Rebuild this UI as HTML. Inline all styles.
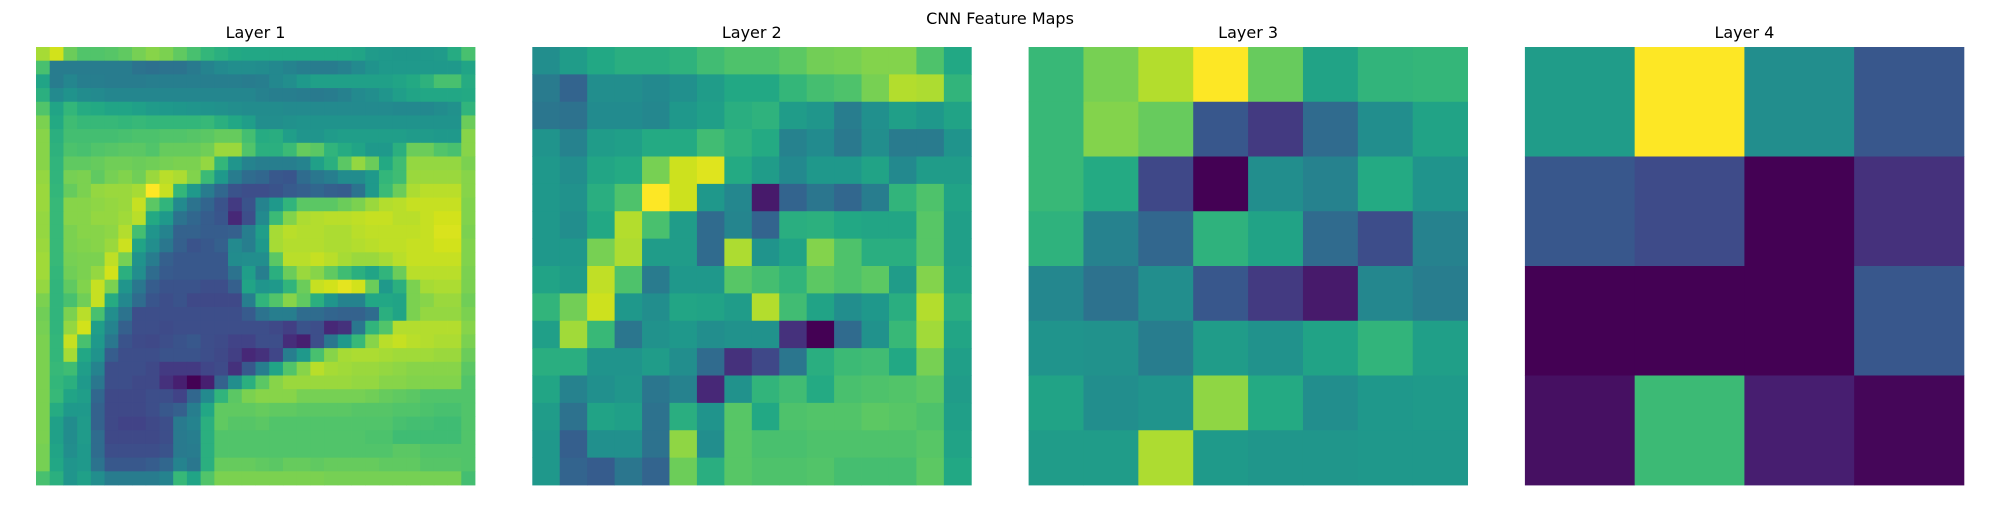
<!DOCTYPE html>
<html><head><meta charset="utf-8">
<style>
html,body{margin:0;padding:0;background:#fff;}
body{width:2000px;height:500px;overflow:hidden;font-family:"Liberation Sans","DejaVu Sans",sans-serif;}
svg text{font-family:"DejaVu Sans","Liberation Sans",sans-serif;fill:#000;}
</style></head>
<body>
<svg id="chart" width="2000" height="500" viewBox="0 0 2000 500" xmlns="http://www.w3.org/2000/svg">
<text x="1000" y="24" font-size="16" text-anchor="middle">CNN Feature Maps</text>
</svg>
<script>
const layerTitles = ["Layer 1","Layer 2","Layer 3","Layer 4"];
const layer1 = [
[85,92,75,70,70,71,73,77,80,78,73,68,63,60,57,56,56,56,56,56,56,56,56,55,51,50,49,49,50,51,58,68],
[68,37,37,37,37,37,37,33,32,33,33,36,40,43,45,45,44,42,40,38,37,37,39,43,47,50,50,50,50,50,50,55],
[55,37,41,38,38,37,37,37,38,38,38,38,38,38,38,37,38,42,45,50,53,53,53,53,53,53,55,57,61,68,68,58],
[60,43,47,44,43,41,41,41,41,41,41,41,41,41,41,41,39,38,38,37,36,37,39,43,45,48,52,55,56,56,56,57],
[70,55,63,58,57,55,55,53,51,50,49,48,47,46,45,44,44,44,43,43,43,43,43,43,43,43,42,42,42,44,46,62],
[78,57,66,64,64,64,63,64,63,63,63,63,64,60,56,52,45,45,46,47,47,47,47,47,47,47,47,47,47,47,47,75],
[80,60,67,67,67,67,68,69,69,70,70,71,72,74,74,67,58,59,52,48,48,51,52,52,52,52,52,51,51,50,50,80],
[80,61,69,68,70,71,72,72,70,74,74,74,76,83,83,70,60,60,65,74,72,62,58,55,50,50,60,75,75,70,68,80],
[80,62,73,73,74,76,76,75,76,77,78,78,82,63,48,40,38,38,38,40,53,60,72,82,75,57,66,82,82,82,82,78],
[82,62,77,78,73,77,79,76,83,88,86,79,65,50,37,30,28,22,21,30,35,38,44,44,50,63,66,83,83,83,83,80],
[83,63,74,78,82,83,83,85,99,90,63,50,37,28,20,18,18,20,23,25,28,25,24,33,50,65,75,86,88,88,88,80],
[83,64,80,80,81,82,83,90,72,62,43,33,27,20,12,20,40,50,62,72,72,72,75,78,83,87,88,90,90,90,90,79],
[82,64,80,80,82,82,84,88,57,50,33,28,24,21,8,18,43,65,79,86,87,88,88,89,90,90,88,88,90,92,92,79],
[82,64,78,80,80,81,87,67,48,40,26,26,24,24,25,38,52,85,88,87,87,86,86,88,89,89,89,89,90,93,93,78],
[83,64,78,79,80,83,91,55,45,35,25,20,22,25,43,38,50,85,87,87,87,86,86,87,88,89,89,90,90,92,92,79],
[84,64,77,78,78,89,77,47,37,25,22,22,22,22,44,45,45,72,88,88,90,88,85,83,83,85,88,90,90,90,90,79],
[84,63,76,78,82,92,60,45,30,23,22,22,22,22,33,52,38,60,75,83,80,73,66,60,55,62,75,88,88,88,88,78],
[82,62,73,79,90,78,48,35,24,20,20,20,18,18,25,55,48,50,62,75,90,92,95,92,75,50,60,78,85,86,86,78],
[78,62,68,76,90,58,42,30,21,18,20,16,16,16,16,38,62,70,80,73,60,48,40,40,56,56,55,78,80,83,83,76],
[76,62,78,88,68,45,33,18,18,18,18,18,18,18,18,23,33,38,38,30,30,27,26,26,30,60,55,78,82,82,82,78],
[77,62,82,92,52,40,25,18,18,17,18,18,18,18,18,18,18,16,13,20,18,8,10,35,62,70,87,87,87,87,87,80],
[78,63,90,68,50,35,20,17,16,18,20,22,18,17,14,14,18,18,9,6,18,35,50,64,80,88,90,88,87,86,86,78],
[78,63,85,56,47,24,18,18,18,20,20,20,18,16,13,8,10,15,38,50,68,80,85,86,86,85,84,84,84,83,83,75],
[78,64,66,52,40,18,18,18,16,12,12,12,15,17,10,22,38,55,70,80,88,85,84,83,83,82,81,80,80,80,80,72],
[78,63,60,50,35,18,18,16,16,10,6,0,6,26,45,60,72,80,83,83,83,83,83,82,82,80,80,79,79,79,79,70],
[78,64,55,52,28,16,16,16,18,18,14,28,43,62,72,78,80,80,80,77,77,77,77,77,76,74,73,72,70,70,70,70],
[78,58,50,50,26,16,16,16,18,22,25,38,56,73,73,73,74,73,73,72,72,72,72,71,71,71,70,70,69,68,68,70],
[78,53,44,51,26,16,14,14,16,18,36,40,60,73,71,71,72,70,70,70,70,70,70,70,70,70,68,67,67,66,66,70],
[78,53,44,51,30,16,16,16,16,18,36,38,60,70,70,70,70,70,70,70,70,70,70,70,69,69,66,66,66,66,66,70],
[77,55,45,50,30,18,18,18,18,20,36,37,60,70,70,70,70,70,70,70,70,70,70,70,70,70,72,72,70,70,70,70],
[77,56,48,50,33,22,22,22,24,28,40,35,60,74,74,74,73,72,74,74,73,74,74,74,74,73,73,73,71,71,71,70],
[68,60,48,53,45,37,37,37,37,40,64,55,70,78,78,78,78,78,78,78,78,77,77,77,77,77,77,77,77,77,77,67]
];
const layer2 = [
[45,52,57,60,60,62,67,70,70,73,77,78,80,80,70,57],
[37,27,45,45,43,46,52,57,57,64,68,70,78,88,87,63],
[35,33,44,44,42,50,53,60,62,52,49,38,46,53,50,55],
[48,40,52,53,58,58,67,62,58,40,44,36,45,37,37,48],
[50,45,56,58,78,92,95,58,52,43,50,50,55,43,52,52],
[50,47,60,70,100,92,50,42,5,27,35,28,38,63,70,55],
[50,45,57,88,69,52,30,41,27,60,61,57,56,56,72,53],
[50,50,78,87,52,52,30,87,48,55,80,70,60,60,72,53],
[55,52,90,70,37,50,50,72,68,63,73,70,73,52,80,55],
[63,77,92,50,45,56,55,52,88,67,55,45,50,60,88,60],
[53,85,65,35,47,50,45,47,47,10,0,30,47,65,85,56],
[60,60,48,48,52,45,30,10,16,35,60,66,67,57,78,53],
[56,40,46,49,35,40,8,47,63,67,58,69,70,71,73,52],
[52,33,55,53,33,60,48,72,57,70,71,71,73,72,70,53],
[50,25,46,46,33,82,45,72,69,69,70,70,70,70,72,55],
[50,27,24,35,27,76,60,72,70,70,71,68,68,68,73,57]
];
const layer3 = [
[65,78,88,100,75,55,63,64],
[65,80,75,22,12,30,45,55],
[65,58,16,0,45,40,58,48],
[62,40,28,62,55,30,18,40],
[42,33,45,22,12,5,42,38],
[48,47,38,52,47,55,63,53],
[55,45,48,82,58,45,50,51],
[52,52,87,51,49,49,50,50]
];
const layer4 = [
[52,100,45,22],
[22,17,0,10],
[0,0,0,22],
[3,66,6,1]
];
const layers = [layer1, layer2, layer3, layer4];

const VIR = [[68,1,84],[72,36,117],[65,68,135],[57,86,140],[49,104,142],[42,120,142],[35,137,142],[31,152,139],[34,168,132],[53,183,121],[84,197,104],[122,209,81],[165,219,54],[210,226,27],[253,231,37]];
function viridis(t){
  t=Math.max(0,Math.min(1,t));
  const p=t*(VIR.length-1), i=Math.min(VIR.length-2,Math.floor(p)), f=p-i;
  const a=VIR[i], b=VIR[i+1];
  return `rgb(${Math.round(a[0]+(b[0]-a[0])*f)},${Math.round(a[1]+(b[1]-a[1])*f)},${Math.round(a[2]+(b[2]-a[2])*f)})`;
}
const NS="http://www.w3.org/2000/svg";
const svg=document.getElementById("chart");
const panelX0=36, panelStep=496.3, panelW=439, panelY=47, panelH=438;
layers.forEach((grid,li)=>{
  const n=grid.length;
  let mn=Infinity,mx=-Infinity;
  grid.forEach(r=>r.forEach(v=>{mn=Math.min(mn,v);mx=Math.max(mx,v);}));
  const x0=panelX0+li*panelStep;
  const xs=c=>x0+c*panelW/n, ys=r=>panelY+r*panelH/n;
  const g=document.createElementNS(NS,"g");
  
  
  svg.appendChild(g);
  const t=document.createElementNS(NS,"text");
  
  
  t.setAttribute("x",x0+panelW/2);t.setAttribute("y",38);
  t.setAttribute("font-size","16");t.setAttribute("text-anchor","middle");
  t.textContent=layerTitles[li];
  svg.appendChild(t);
  grid.forEach((row,r)=>row.forEach((v,c)=>{
    const rc=document.createElementNS(NS,"rect");
    
    
    const xa=xs(c), xb=xs(c+1), ya=ys(r), yb=ys(r+1);
    rc.setAttribute("x",xa.toFixed(2));rc.setAttribute("y",ya.toFixed(2));
    rc.setAttribute("width",(xb-xa+0.4).toFixed(2));rc.setAttribute("height",(yb-ya+0.4).toFixed(2));
    rc.setAttribute("fill",viridis((v-mn)/(mx-mn)));
    g.appendChild(rc);
  }));
});
</script>
</body></html>
